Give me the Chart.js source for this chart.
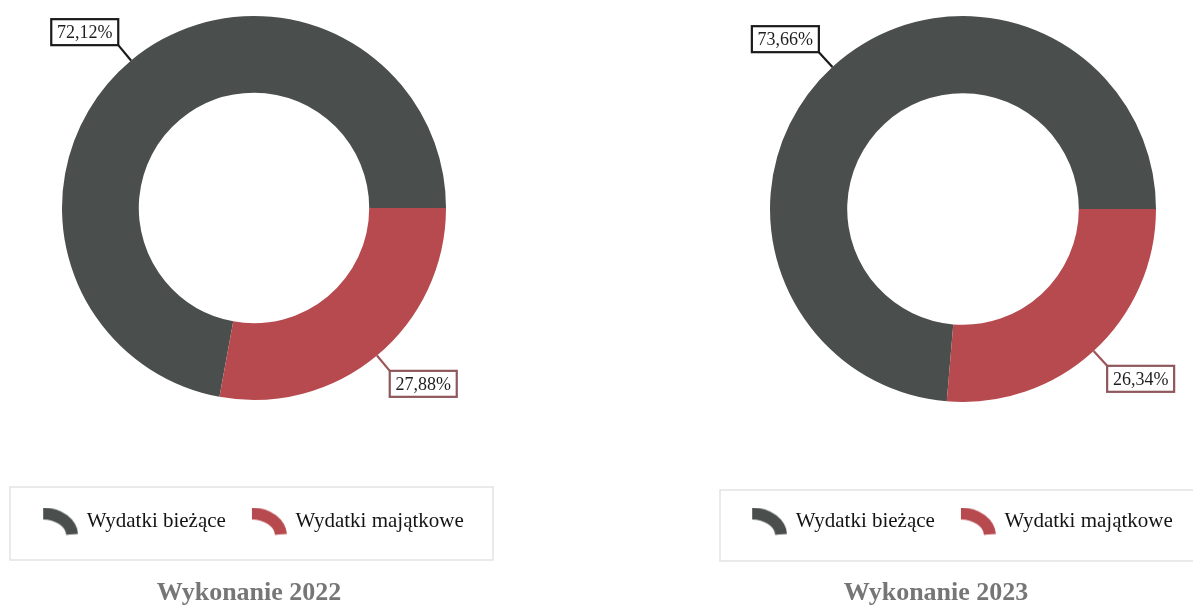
<!DOCTYPE html>
<html lang="pl">
<head>
<meta charset="utf-8">
<title>Wydatki bieżące i majątkowe – Wykonanie 2022 i 2023</title>
<script src="https://cdn.jsdelivr.net/npm/chart.js@4/dist/chart.umd.min.js"></script>
<style>
  html, body { margin: 0; padding: 0; background: #ffffff; }
  body { width: 1193px; height: 615px; position: relative; overflow: hidden; }
  canvas { position: absolute; top: 0; }
  .panel-title {
    position: absolute; top: 577px; width: 400px; text-align: center;
    font: bold 26px/30px "Liberation Serif", "Times New Roman", serif;
    color: #767676; white-space: nowrap;
  }
</style>
</head>
<body>
<canvas id="chart2022" width="508" height="615" style="left:0px;width:508px;height:615px"></canvas>
<canvas id="chart2023" width="508" height="615" style="left:709px;width:508px;height:615px"></canvas>
<div class="panel-title" id="title2022" style="left:49px"></div>
<div class="panel-title" id="title2023" style="left:736px"></div>

<script>
// Expense categories and the share of each in total spending (%)
const categories = ['Wydatki bieżące', 'Wydatki majątkowe'];
const values2022 = [72.12, 27.88];
const values2023 = [73.66, 26.34];
const panelTitles = ['Wykonanie 2022', 'Wykonanie 2023'];

const sliceColors = ['#4a4f4d', '#b64a4e'];
const labelBorderColors = ['#1a1a1a', '#8e575b'];
const leaderColors = ['#1a1a1a', '#a0545a'];
const legendTextColor = '#141414';

Chart.defaults.animation = false;
Chart.defaults.font.family = '"Liberation Serif", "Times New Roman", serif';

// Curved-band glyph used as the legend marker
function arcIcon(color) {
  const c = document.createElement('canvas');
  c.width = 36; c.height = 28;
  const g = c.getContext('2d');
  const end = -0.05;
  g.fillStyle = color;
  g.beginPath();
  g.ellipse(1, 28, 35, 28, 0, -Math.PI / 2, end, false);
  g.ellipse(1, 28, 23, 16, 0, end, -Math.PI / 2, true);
  g.closePath();
  g.fill();
  return c;
}
const legendIcons = sliceColors.map(arcIcon);

function formatPct(v) {
  return v.toFixed(2).replace('.', ',') + '%';
}

// Boxed percentage labels joined to each slice by a short radial leader line
const calloutPlugin = {
  id: 'callouts',
  afterDatasetsDraw(chart, args, opts) {
    const ctx = chart.ctx;
    const meta = chart.getDatasetMeta(0);
    const values = chart.data.datasets[0].data;
    const len = opts.leader || 20;
    ctx.save();
    ctx.font = '18px "Liberation Serif", "Times New Roman", serif';
    meta.data.forEach((arc, i) => {
      const mid = (arc.startAngle + arc.endAngle) / 2;
      const dx = Math.cos(mid), dy = Math.sin(mid);
      const r = arc.outerRadius;
      const x0 = arc.x + dx * r, y0 = arc.y + dy * r;
      const x1 = arc.x + dx * (r + len), y1 = arc.y + dy * (r + len);

      ctx.strokeStyle = leaderColors[i];
      ctx.lineWidth = 2.2;
      ctx.beginPath();
      ctx.moveTo(x0, y0);
      ctx.lineTo(x1, y1);
      ctx.stroke();

      const text = formatPct(values[i]);
      const tw = ctx.measureText(text).width;
      const bw = Math.round(tw + 12), bh = 26;
      const bx = dx < 0 ? x1 - bw : x1;
      const by = dy < 0 ? y1 - bh : y1;

      ctx.fillStyle = '#ffffff';
      ctx.fillRect(bx, by, bw, bh);
      ctx.strokeStyle = labelBorderColors[i];
      ctx.lineWidth = 2.2;
      ctx.strokeRect(bx, by, bw, bh);

      ctx.fillStyle = '#1e1e1e';
      ctx.textAlign = 'center';
      ctx.textBaseline = 'middle';
      ctx.fillText(text, bx + bw / 2, by + bh / 2 + 1);
    });
    ctx.restore();
  }
};

// Thin frame drawn around the legend
const legendFramePlugin = {
  id: 'legendFrame',
  afterDraw(chart, args, opts) {
    const ctx = chart.ctx;
    ctx.save();
    ctx.strokeStyle = '#e3e3e6';
    ctx.lineWidth = 1.5;
    ctx.strokeRect(opts.left, opts.top, opts.width, opts.height);
    ctx.restore();
  }
};

function makeDonut(canvasId, values, layoutTop, legendGap, frame) {
  return new Chart(document.getElementById(canvasId), {
    type: 'doughnut',
    data: {
      labels: categories,
      datasets: [{
        data: values,
        backgroundColor: sliceColors,
        borderWidth: 0,
        hoverOffset: 0
      }]
    },
    options: {
      responsive: false,
      devicePixelRatio: 1,
      cutout: '60%',
      rotation: 90 - values[0] / 100 * 360,
      layout: { padding: { top: layoutTop, bottom: 73, left: 0, right: 0 } },
      events: [],
      plugins: {
        tooltip: { enabled: false },
        title: { display: false },
        legend: {
          display: true,
          position: 'bottom',
          align: 'center',
          title: {
            display: true,
            text: '',
            font: { size: 2, lineHeight: 1 },
            padding: { top: legendGap, bottom: 0 }
          },
          labels: {
            usePointStyle: true,
            pointStyleWidth: 32,
            boxHeight: 21,
            padding: 27,
            color: legendTextColor,
            font: { size: 21, family: '"Liberation Serif", "Times New Roman", serif' },
            generateLabels: (chart) => chart.data.labels.map((label, i) => ({
              text: label,
              fillStyle: sliceColors[i],
              strokeStyle: sliceColors[i],
              fontColor: legendTextColor,
              lineWidth: 0,
              pointStyle: legendIcons[i],
              hidden: false,
              index: i
            }))
          }
        },
        callouts: { leader: 20 },
        legendFrame: frame
      }
    },
    plugins: [calloutPlugin, legendFramePlugin]
  });
}

makeDonut('chart2022', values2022, 16, 82, { left: 10, top: 487, width: 483, height: 73 });
makeDonut('chart2023', values2023, 16, 80, { left: 11, top: 490, width: 483, height: 71 });

document.getElementById('title2022').textContent = panelTitles[0];
document.getElementById('title2023').textContent = panelTitles[1];
</script>
</body>
</html>
